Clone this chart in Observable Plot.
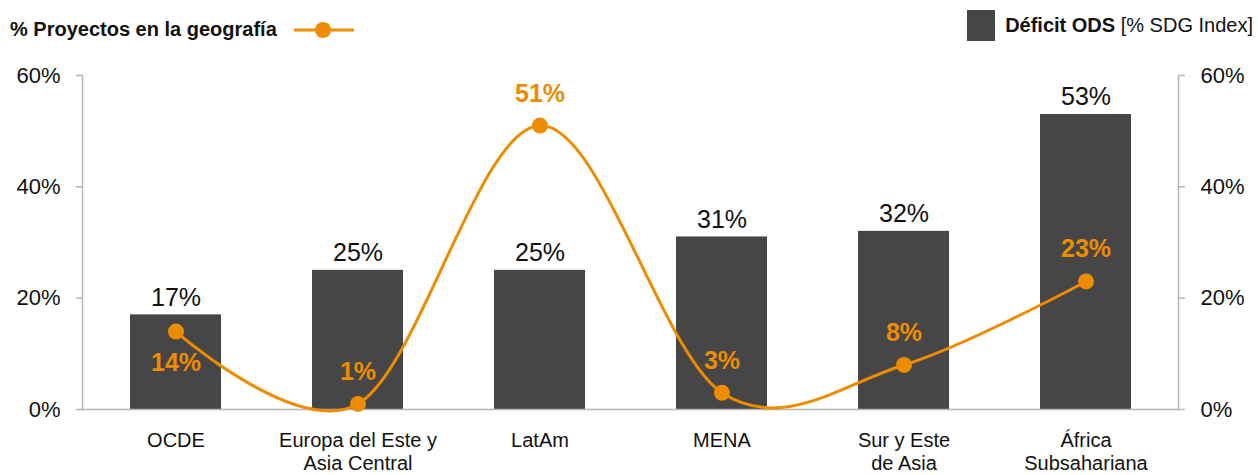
<!DOCTYPE html>
<html>
<head>
<meta charset="utf-8">
<script src="https://cdn.jsdelivr.net/npm/d3@7"></script>
<script src="https://cdn.jsdelivr.net/npm/@observablehq/plot@0.6"></script>
<style>
  body { margin: 0; background: #fff; font-family: "Liberation Sans", Arial, Helvetica, sans-serif; }
  #legend { position: relative; width: 1258px; height: 50px; }
  #leg-left { position: absolute; left: 10px; top: 18px; font-size: 20px; font-weight: bold; color: #111; display: flex; align-items: center; }
  #leg-right { position: absolute; right: 5px; top: 10px; font-size: 20px; color: #111; display: flex; align-items: center; }
  #leg-right .sw { width: 28px; height: 31px; background: #464646; margin-right: 10px; }
</style>
</head>
<body>
<div id="legend">
  <div id="leg-left"><span>% Proyectos en la geografía</span>
    <svg width="62" height="20" style="margin-left:16px"><line x1="1" x2="61" y1="10" y2="10" stroke="#EE8C00" stroke-width="3"/><circle cx="30" cy="10" r="8" fill="#EE8C00"/></svg>
  </div>
  <div id="leg-right"><div class="sw"></div><span><b>Déficit ODS</b> [% SDG Index]</span></div>
</div>
<div id="chart"></div>
<script>
const categories = ["OCDE", "Europa del Este y\nAsia Central", "LatAm", "MENA", "Sur y Este\nde Asia", "África\nSubsahariana"];
const deficitODS = [17, 25, 25, 31, 32, 53];
const proyectos = [14, 1, 51, 3, 8, 23];
const yTicks = [0, 20, 40, 60];

const data = categories.map((c, i) => ({cat: c, deficit: deficitODS[i], proy: proyectos[i]}));
const orange = "#EE8C00";
const bar = "#464646";
const axisGray = "#b5b5b5";

const chart = Plot.plot({
  width: 1258,
  height: 425,
  marginLeft: 82,
  marginRight: 80,
  marginTop: 25,
  marginBottom: 66,
  style: {fontFamily: "'Liberation Sans', Arial, Helvetica, sans-serif", color: "#111", background: "#fff"},
  x: {type: "band", domain: categories, paddingInner: 0.5, paddingOuter: 0.25, label: null},
  y: {domain: [0, 60], label: null},
  marks: [
    Plot.barY(data, {x: "cat", y: "deficit", fill: bar}),
    Plot.frame({anchor: "left", stroke: axisGray, strokeWidth: 1.5}),
    Plot.frame({anchor: "right", stroke: axisGray, strokeWidth: 1.5}),
    Plot.ruleY([0], {stroke: axisGray, strokeWidth: 1.5}),
    Plot.axisY({anchor: "left", ticks: yTicks, tickFormat: d => d + "%", tickSize: 6, tickPadding: 16, stroke: axisGray, strokeWidth: 1.5, fontSize: 22, fill: "#111", label: null}),
    Plot.axisY({anchor: "right", ticks: yTicks, tickFormat: d => d + "%", tickSize: 6, tickPadding: 16, stroke: axisGray, strokeWidth: 1.5, fontSize: 22, fill: "#111", label: null}),
    Plot.axisX({tickSize: 0, tickPadding: 21, fontSize: 20, lineHeight: 1.15, fill: "#111", label: null}),
    Plot.text(data, {x: "cat", y: "deficit", text: d => d.deficit + "%", dy: -17, fontSize: 25, fill: "#111"}),
    Plot.line(data, {x: "cat", y: "proy", stroke: orange, strokeWidth: 3, curve: "cardinal"}),
    Plot.dot(data, {x: "cat", y: "proy", r: 8, fill: orange}),
    Plot.text(data, {x: "cat", y: "proy", text: d => d.proy + "%", fontSize: 25, fontWeight: "bold", fill: orange,
      dy: -32, filter: (d, i) => i !== 0}),
    Plot.text(data, {x: "cat", y: "proy", text: d => d.proy + "%", fontSize: 25, fontWeight: "bold", fill: orange,
      dy: 31, filter: (d, i) => i === 0})
  ]
});
document.getElementById("chart").appendChild(chart);
</script>
</body>
</html>
